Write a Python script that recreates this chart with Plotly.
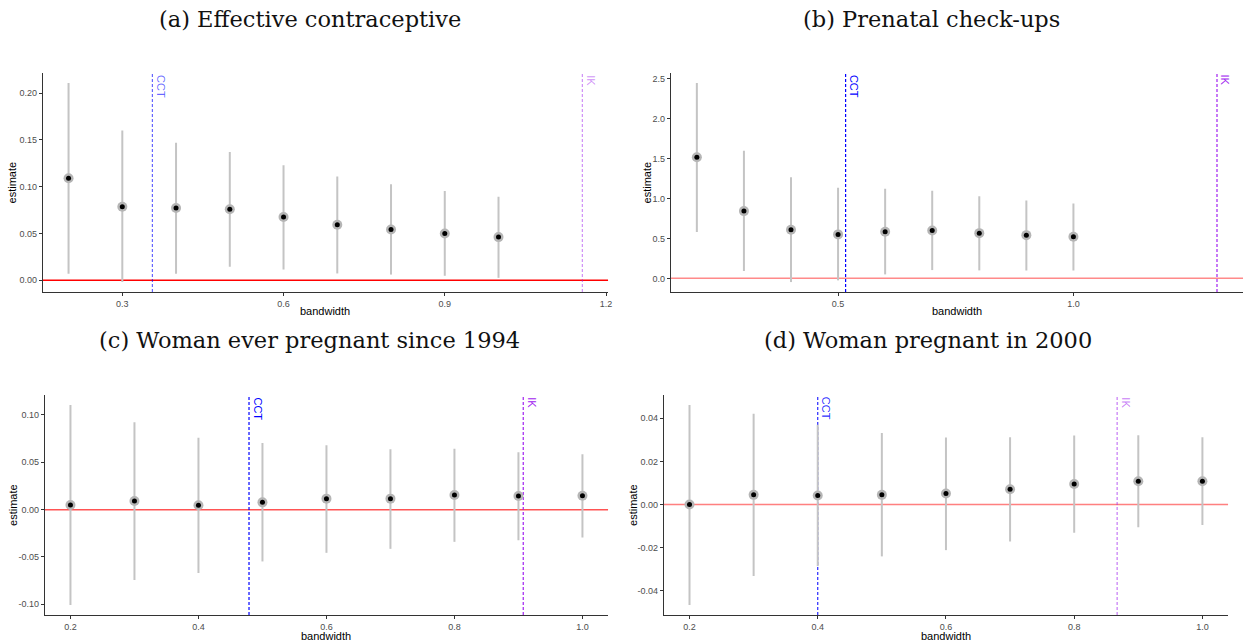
import plotly.graph_objects as go

W, H = 1249, 643

bandwidth = [0.2, 0.3, 0.4, 0.5, 0.6, 0.7, 0.8, 0.9, 1.0]

a_est = [0.109, 0.0786, 0.0772, 0.0758, 0.0675, 0.0593, 0.0543, 0.050, 0.0461]
a_lo = [0.007, -0.002, 0.007, 0.0143, 0.0114, 0.0072, 0.006, 0.0047, 0.0025]
a_hi = [0.211, 0.160, 0.147, 0.137, 0.123, 0.111, 0.1025, 0.0954, 0.0893]

b_est = [1.518, 0.843, 0.609, 0.551, 0.584, 0.601, 0.567, 0.542, 0.522]
b_lo = [0.58, 0.092, -0.046, -0.025, 0.050, 0.104, 0.10, 0.10, 0.10]
b_hi = [2.449, 1.60, 1.268, 1.135, 1.122, 1.097, 1.03, 0.976, 0.939]

c_est = [0.0049, 0.0091, 0.0046, 0.0077, 0.0116, 0.0116, 0.0154, 0.0144, 0.0147]
c_lo = [-0.1007, -0.0744, -0.067, -0.0547, -0.0456, -0.0414, -0.034, -0.0323, -0.0295]
c_hi = [0.1105, 0.0923, 0.0758, 0.0705, 0.068, 0.0639, 0.0642, 0.0607, 0.0586]

d_est = [0.0, 0.0045, 0.0042, 0.0045, 0.0051, 0.0071, 0.0095, 0.0108, 0.0108]
d_lo = [-0.0465, -0.0331, -0.0285, -0.024, -0.0211, -0.0171, -0.0131, -0.0105, -0.0095]
d_hi = [0.0461, 0.0421, 0.0369, 0.0331, 0.0311, 0.0312, 0.032, 0.0321, 0.0312]

cct = {"a": 0.356, "b": 0.516, "c": 0.479, "d": 0.40}
ik = {"a": 1.156, "b": 1.305, "c": 0.9075, "d": 0.867}

titles = {
    "a": "(a) Effective contraceptive",
    "b": "(b) Prenatal check-ups",
    "c": "(c) Woman ever pregnant since 1994",
    "d": "(d) Woman pregnant in 2000",
}

x_ticks = {
    "a": [0.3, 0.6, 0.9, 1.2],
    "b": [0.5, 1.0],
    "c": [0.2, 0.4, 0.6, 0.8, 1.0],
    "d": [0.2, 0.4, 0.6, 0.8, 1.0],
}
x_tick_text = {
    "a": ["0.3", "0.6", "0.9", "1.2"],
    "b": ["0.5", "1.0"],
    "c": ["0.2", "0.4", "0.6", "0.8", "1.0"],
    "d": ["0.2", "0.4", "0.6", "0.8", "1.0"],
}
y_ticks = {
    "a": [0.0, 0.05, 0.10, 0.15, 0.20],
    "b": [0.0, 0.5, 1.0, 1.5, 2.0, 2.5],
    "c": [-0.10, -0.05, 0.0, 0.05, 0.10],
    "d": [-0.04, -0.02, 0.0, 0.02, 0.04],
}
y_tick_text = {
    "a": ["0.00", "0.05", "0.10", "0.15", "0.20"],
    "b": ["0.0", "0.5", "1.0", "1.5", "2.0", "2.5"],
    "c": ["-0.10", "-0.05", "0.00", "0.05", "0.10"],
    "d": ["-0.04", "-0.02", "0.00", "0.02", "0.04"],
}

series = {
    "a": (a_est, a_lo, a_hi),
    "b": (b_est, b_lo, b_hi),
    "c": (c_est, c_lo, c_hi),
    "d": (d_est, d_lo, d_hi),
}

# pixel boxes of plot panels: left, right, top, bottom
boxes = {
    "a": (43, 610, 73, 292),
    "b": (673, 1247, 73, 292),
    "c": (45, 610, 395, 615),
    "d": (666, 1232, 395, 615),
}
title_pos = {"a": (311, 19), "b": (934, 19), "c": (310, 340), "d": (931, 340)}
ylab_x = {"a": 13, "b": 650, "c": 13, "d": 635}
xlab_y = {"a": 311, "b": 311, "c": 636, "d": 636}

zero_col = {"a": "rgba(255,0,0,1)", "b": "rgba(255,60,60,0.6)",
            "c": "rgba(255,40,40,0.8)", "d": "rgba(255,60,60,0.65)"}
cct_col = {"a": "rgba(0,0,255,0.6)", "b": "rgba(0,0,255,1)",
           "c": "rgba(0,0,255,1)", "d": "rgba(0,0,255,0.85)"}
ik_col = {"a": "rgba(160,32,240,0.5)", "b": "rgba(160,32,240,1)",
          "c": "rgba(160,32,240,1)", "d": "rgba(160,32,240,0.6)"}


def px(x):
    return x / W


def py(y):
    return 1 - y / H


def expand(lo, hi, f=0.05):
    r = hi - lo
    return [lo - f * r, hi + f * r]


fig = go.Figure()
layout = dict(
    width=W, height=H, margin=dict(l=0, r=0, t=0, b=0),
    paper_bgcolor="white", plot_bgcolor="white", showlegend=False,
    font=dict(family="Liberation Sans, Arial", color="black"),
)
annotations = []
shapes = []

for i, key in enumerate(["a", "b", "c", "d"]):
    n = "" if i == 0 else str(i + 1)
    xa, ya = "x" + n, "y" + n
    est, lo, hi = series[key]
    L, R, T, B = boxes[key]

    fig.add_trace(go.Scatter(
        x=bandwidth, y=est, xaxis=xa, yaxis=ya, mode="markers",
        marker=dict(size=10, color="#B5B5B5"),
        error_y=dict(type="data", symmetric=False,
                     array=[h - e for h, e in zip(hi, est)],
                     arrayminus=[e - l for e, l in zip(est, lo)],
                     width=0, thickness=2, color="#C4C4C4"),
        hoverinfo="skip",
    ))
    fig.add_trace(go.Scatter(
        x=bandwidth, y=est, xaxis=xa, yaxis=ya, mode="markers",
        marker=dict(size=5, color="black"), hoverinfo="skip",
    ))

    xr = expand(min(bandwidth + [cct[key], ik[key]]), max(bandwidth + [cct[key], ik[key]]))
    yr = expand(min(lo + [0]), max(hi + [0]))

    axis_common = dict(
        showgrid=False, zeroline=False, showline=True, linecolor="#333333",
        linewidth=1, ticks="outside", ticklen=3, tickcolor="#333333",
        tickfont=dict(size=9, color="#4D4D4D", family="Liberation Sans, Arial"),
    )
    layout["xaxis" + n] = dict(
        axis_common, domain=[px(L), px(R)], range=xr, anchor=ya,
        tickvals=x_ticks[key], ticktext=x_tick_text[key],
    )
    layout["yaxis" + n] = dict(
        axis_common, domain=[py(B), py(T)], range=yr, anchor=xa,
        tickvals=y_ticks[key], ticktext=y_tick_text[key],
    )

    shapes.append(dict(type="line", xref=xa + " domain", yref=ya,
                       x0=0, x1=1, y0=0, y1=0,
                       line=dict(color=zero_col[key], width=1.5), layer="below"))
    for val, col, lab in [(cct[key], cct_col[key], "CCT"), (ik[key], ik_col[key], "IK")]:
        shapes.append(dict(type="line", xref=xa, yref=ya + " domain",
                           x0=val, x1=val, y0=0, y1=1,
                           line=dict(color=col, width=1.2, dash="3px,2px"), layer="below"))
        annotations.append(dict(
            x=val, y=1, xref=xa, yref=ya + " domain", text=lab, textangle=90,
            showarrow=False, xanchor="left", yanchor="top", xshift=1,
            font=dict(size=11, color=col, family="Liberation Sans, Arial"),
        ))

    tx, ty = title_pos[key]
    annotations.append(dict(
        x=px(tx), y=py(ty), xref="paper", yref="paper", text=titles[key],
        showarrow=False, xanchor="center", yanchor="middle",
        font=dict(size=22.5, family="DejaVu Serif, serif", color="#111111"),
    ))
    annotations.append(dict(
        x=px(ylab_x[key]), y=py((T + B) / 2), xref="paper", yref="paper",
        text="estimate", textangle=-90, showarrow=False,
        xanchor="center", yanchor="middle", font=dict(size=11, color="black"),
    ))
    annotations.append(dict(
        x=px((L + R) / 2), y=py(xlab_y[key]), xref="paper", yref="paper",
        text="bandwidth", showarrow=False,
        xanchor="center", yanchor="middle", font=dict(size=11, color="black"),
    ))

layout["annotations"] = annotations
layout["shapes"] = shapes
fig.update_layout(**layout)
fig.write_html(
    "out.html",
    config={"displayModeBar": False},
    post_script="document.body.style.margin='0';document.body.style.overflow='hidden';",
)
